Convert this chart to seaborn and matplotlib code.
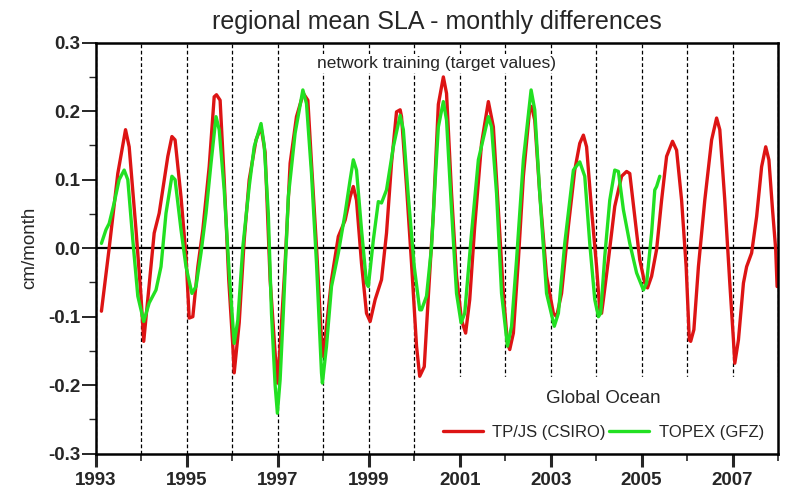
import numpy as np
import pandas as pd
import matplotlib
matplotlib.use("Agg")
import matplotlib.pyplot as plt
from matplotlib.ticker import MultipleLocator, FixedLocator, FormatStrFormatter
import seaborn as sns

# ---- data ----
red_t = [1993.12, 1993.29, 1993.48, 1993.65, 1993.73, 1993.88, 1993.99, 1994.05, 1994.21, 1994.28,
         1994.39, 1994.58, 1994.67, 1994.74, 1994.87, 1994.98, 1995.05, 1995.13, 1995.24, 1995.35,
         1995.49, 1995.60, 1995.65, 1995.73, 1995.82, 1995.92, 1996.01, 1996.04, 1996.15, 1996.26,
         1996.37, 1996.52, 1996.63, 1996.72, 1996.83, 1996.94, 1996.99, 1997.05, 1997.16, 1997.27,
         1997.41, 1997.56, 1997.66, 1997.74, 1997.85, 1997.96, 1998.00, 1998.07, 1998.18, 1998.33,
         1998.48, 1998.59, 1998.66, 1998.73, 1998.84, 1998.95, 1999.03, 1999.14, 1999.28, 1999.39,
         1999.50, 1999.61, 1999.69, 1999.72, 1999.83, 1999.94, 2000.05, 2000.12, 2000.22, 2000.31,
         2000.42, 2000.53, 2000.64, 2000.71, 2000.82, 2000.93, 2001.04, 2001.13, 2001.22, 2001.33,
         2001.48, 2001.63, 2001.74, 2001.85, 2001.96, 2002.05, 2002.10, 2002.18, 2002.29, 2002.40,
         2002.54, 2002.58, 2002.65, 2002.76, 2002.91, 2003.06, 2003.13, 2003.24, 2003.39, 2003.53,
         2003.64, 2003.72, 2003.79, 2003.90, 2004.01, 2004.08, 2004.12, 2004.16, 2004.27, 2004.41,
         2004.56, 2004.67, 2004.74, 2004.85, 2004.96, 2005.07, 2005.13, 2005.22, 2005.33, 2005.44,
         2005.55, 2005.68, 2005.77, 2005.88, 2005.98, 2006.05, 2006.08, 2006.15, 2006.25, 2006.39,
         2006.54, 2006.65, 2006.72, 2006.83, 2006.94, 2007.02, 2007.05, 2007.13, 2007.24, 2007.31,
         2007.42, 2007.53, 2007.64, 2007.73, 2007.80, 2007.88, 2007.95, 2007.98]
red_v = [-0.092, 0.000, 0.109, 0.173, 0.148, 0.027, -0.070, -0.136, -0.027, 0.022,
         0.051, 0.134, 0.163, 0.158, 0.075, -0.012, -0.102, -0.100, -0.027, 0.027,
         0.119, 0.221, 0.224, 0.216, 0.100, -0.046, -0.143, -0.182, -0.109, 0.012,
         0.100, 0.158, 0.177, 0.140, -0.046, -0.153, -0.197, -0.143, -0.022, 0.124,
         0.192, 0.226, 0.216, 0.124, 0.002, -0.134, -0.158, -0.114, -0.046, 0.017,
         0.041, 0.075, 0.090, 0.070, -0.022, -0.095, -0.107, -0.075, -0.046, 0.022,
         0.124, 0.199, 0.202, 0.192, 0.090, -0.022, -0.143, -0.187, -0.173, -0.070,
         0.051, 0.210, 0.250, 0.226, 0.080, -0.041, -0.105, -0.124, -0.075, 0.032,
         0.153, 0.214, 0.177, 0.056, -0.066, -0.139, -0.148, -0.124, -0.017, 0.105,
         0.204, 0.207, 0.187, 0.080, -0.041, -0.095, -0.100, -0.066, 0.032, 0.114,
         0.153, 0.165, 0.148, 0.056, -0.027, -0.090, -0.095, -0.075, -0.017, 0.061,
         0.105, 0.112, 0.109, 0.046, -0.017, -0.051, -0.058, -0.041, -0.002, 0.070,
         0.134, 0.156, 0.143, 0.070, -0.027, -0.134, -0.136, -0.119, -0.027, 0.070,
         0.158, 0.190, 0.173, 0.070, -0.051, -0.134, -0.168, -0.134, -0.051, -0.027,
         -0.007, 0.046, 0.119, 0.148, 0.129, 0.056, -0.002, -0.056]

green_t = [1993.12, 1993.22, 1993.29, 1993.40, 1993.51, 1993.62, 1993.70, 1993.81, 1993.92, 1994.05,
           1994.17, 1994.32, 1994.43, 1994.54, 1994.67, 1994.74, 1994.87, 1994.98, 1995.11, 1995.20,
           1995.31, 1995.42, 1995.53, 1995.64, 1995.71, 1995.82, 1995.93, 1996.04, 1996.12, 1996.23,
           1996.37, 1996.48, 1996.63, 1996.70, 1996.79, 1996.86, 1996.94, 1996.99, 1997.05, 1997.12,
           1997.23, 1997.38, 1997.55, 1997.63, 1997.74, 1997.85, 1997.96, 1997.98, 1998.07, 1998.18,
           1998.33, 1998.48, 1998.59, 1998.66, 1998.73, 1998.84, 1998.95, 1998.99, 1999.10, 1999.21,
           1999.28, 1999.39, 1999.54, 1999.69, 1999.76, 1999.87, 2000.00, 2000.12, 2000.16, 2000.27,
           2000.38, 2000.47, 2000.53, 2000.64, 2000.71, 2000.82, 2000.93, 2001.03, 2001.11, 2001.26,
           2001.41, 2001.63, 2001.70, 2001.81, 2001.92, 2002.05, 2002.14, 2002.25, 2002.40, 2002.57,
           2002.65, 2002.76, 2002.91, 2003.08, 2003.17, 2003.31, 2003.50, 2003.64, 2003.75, 2003.86,
           2003.97, 2004.05, 2004.10, 2004.19, 2004.30, 2004.41, 2004.49, 2004.60, 2004.74, 2004.89,
           2005.04, 2005.11, 2005.22, 2005.29, 2005.33, 2005.40]
green_v = [0.007, 0.027, 0.036, 0.066, 0.100, 0.114, 0.100, 0.012, -0.070, -0.107,
           -0.080, -0.061, -0.027, 0.051, 0.105, 0.100, 0.027, -0.027, -0.066, -0.056,
           -0.007, 0.051, 0.124, 0.192, 0.173, 0.085, -0.036, -0.139, -0.105, 0.002,
           0.090, 0.148, 0.182, 0.150, 0.051, -0.095, -0.200, -0.241, -0.192, -0.095,
           0.075, 0.168, 0.231, 0.211, 0.109, -0.022, -0.182, -0.197, -0.143, -0.056,
           -0.007, 0.051, 0.100, 0.129, 0.114, 0.027, -0.051, -0.056, 0.012, 0.068,
           0.066, 0.085, 0.148, 0.194, 0.173, 0.075, -0.027, -0.090, -0.090, -0.070,
           0.002, 0.110, 0.177, 0.214, 0.187, 0.056, -0.066, -0.109, -0.095, 0.022,
           0.129, 0.192, 0.177, 0.080, -0.066, -0.143, -0.114, -0.017, 0.129, 0.231,
           0.202, 0.080, -0.066, -0.114, -0.095, 0.007, 0.114, 0.126, 0.105, 0.007,
           -0.075, -0.100, -0.095, -0.012, 0.070, 0.114, 0.112, 0.056, 0.007, -0.036,
           -0.061, -0.051, 0.022, 0.085, 0.090, 0.105]

series_names = ["TP/JS (CSIRO)", "TOPEX (GFZ)"]
series_colors = ["#dd1414", "#22e022"]
major_years = list(range(1993, 2008, 2))
minor_years = list(range(1994, 2009, 2))

df = pd.concat([
    pd.DataFrame({"year": red_t, "value": red_v, "series": series_names[0]}),
    pd.DataFrame({"year": green_t, "value": green_v, "series": series_names[1]}),
], ignore_index=True)

sns.set_style("white")
plt.rcParams["font.family"] = ["Liberation Sans", "DejaVu Sans"]
plt.rcParams["axes.unicode_minus"] = False

fig = plt.figure(figsize=(7.88, 4.98), dpi=100)
ax = fig.add_axes([0.1218, 0.089, 0.8655, 0.8253])

ax.set_xlim(1993, 2008)
ax.set_ylim(-0.3, 0.3)

ax.xaxis.set_major_locator(FixedLocator(major_years))
ax.xaxis.set_minor_locator(FixedLocator(minor_years))
ax.yaxis.set_major_locator(MultipleLocator(0.1))
ax.yaxis.set_minor_locator(MultipleLocator(0.05))
ax.yaxis.set_major_formatter(FormatStrFormatter("%.1f"))

ax.grid(True, which="both", axis="x", color="black", linestyle=(0, (3, 2)), linewidth=0.9)
ax.set_axisbelow(True)
ax.axhline(0, color="black", lw=1.6, zorder=1.5)

sns.lineplot(data=df, x="year", y="value", hue="series", palette=dict(zip(series_names, series_colors)),
             sort=False, estimator=None, lw=2.4, ax=ax, zorder=3)

for s in ax.spines.values():
    s.set_linewidth(1.8)
    s.set_color("black")
    s.set_zorder(6)

ax.tick_params(axis="x", which="major", direction="out", length=9.5, width=2.2, labelsize=13.5, pad=4,
               bottom=True, top=False)
ax.tick_params(axis="x", which="minor", direction="out", length=5, width=1.2, bottom=True, top=False)
ax.tick_params(axis="y", which="major", direction="out", length=10, width=1.4, labelsize=13.5, pad=1,
               left=True, right=False)
ax.tick_params(axis="y", which="minor", direction="out", length=5, width=1.0, left=True, right=False)
for lab in ax.get_xticklabels() + ax.get_yticklabels():
    lab.set_fontweight("bold")

ax.set_xlabel("")
ax.set_ylabel("cm/month", fontsize=13.5, labelpad=7)
ax.set_title("regional mean SLA - monthly differences", fontsize=18, pad=10)
ax.text(0.5, 0.95, "network training (target values)", transform=ax.transAxes,
        ha="center", va="center", fontsize=12.5, zorder=4,
        bbox=dict(facecolor="white", edgecolor="none", pad=1.5))

leg = ax.legend(title="Global Ocean", ncol=2, loc="lower right", frameon=True, fancybox=False,
                facecolor="white", edgecolor="white", framealpha=1.0, fontsize=12, title_fontsize=13.5,
                handlelength=2.4, columnspacing=0.25, handletextpad=0.55, borderaxespad=0.05,
                borderpad=0.8, labelspacing=1.05)
leg.set_zorder(5)
for h in leg.get_lines():
    h.set_linewidth(2.4)

fig.savefig("out.png", dpi=100)
